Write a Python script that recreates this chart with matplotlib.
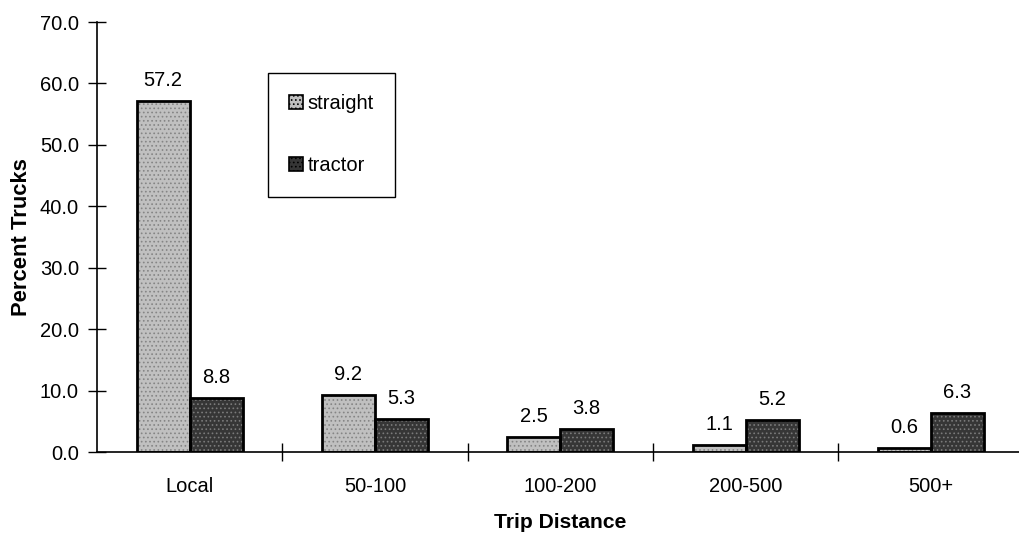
import matplotlib
matplotlib.use("Agg")
import matplotlib.pyplot as plt
import numpy as np
from matplotlib.patches import Patch
from matplotlib.ticker import FixedLocator, FormatStrFormatter

plt.rcParams['font.family'] = ['Liberation Sans', 'DejaVu Sans']
plt.rcParams['hatch.linewidth'] = 0.7

categories = ["Local", "50-100", "100-200", "200-500", "500+"]
straight = [57.2, 9.2, 2.5, 1.1, 0.6]
tractor = [8.8, 5.3, 3.8, 5.2, 6.3]
series_names = ["straight", "tractor"]

W, H = 1019, 536
fig = plt.figure(figsize=(W / 100, H / 100), dpi=100)
ax = fig.add_axes([97 / W, 1 - 452 / H, 926.5 / W, 430 / H])

x = np.arange(len(categories))
bw = 0.286
fs = 14.5

styles = [
    dict(face="#c0c0c0", dots="#858585"),
    dict(face="#363636", dots="#7a7a7a"),
]
handles = []
for vals, off, st, name in zip([straight, tractor], [-bw / 2, bw / 2], styles, series_names):
    # stippled fill
    ax.bar(x + off, vals, bw, color=st["face"], edgecolor=st["dots"], linewidth=0,
           hatch="....", zorder=2)
    # black outline
    ax.bar(x + off, vals, bw, fill=False, edgecolor="black", linewidth=2.0, zorder=3)
    for xi, v in zip(x + off, vals):
        ax.annotate(f"{v:.1f}", (xi, v), xytext=(0, 8), textcoords="offset points",
                    ha="center", va="bottom", fontsize=fs)
    handles.append(Patch(facecolor=st["face"], edgecolor="black", linewidth=1.2,
                         hatch="....", label=name))

ax.set_xlim(-0.5, len(categories) - 0.5)
ax.set_ylim(0, 70)

# axes styling
for s in ("top", "right"):
    ax.spines[s].set_visible(False)
ax.spines["left"].set_linewidth(1.2)
ax.spines["bottom"].set_linewidth(1.2)

ax.set_yticks(np.arange(0, 71, 10))
ax.yaxis.set_major_formatter(FormatStrFormatter("%.1f"))
ax.tick_params(axis="y", direction="inout", length=13, width=1.0, pad=6.5, labelsize=fs)

ax.set_xticks(x)
ax.set_xticklabels(categories)
ax.tick_params(axis="x", which="major", length=0, pad=18, labelsize=fs)
ax.xaxis.set_minor_locator(FixedLocator(np.arange(0.5, len(categories) - 0.5, 1)))
ax.tick_params(axis="x", which="minor", direction="inout", length=13, width=1.0)

ax.set_ylabel("Percent Trucks", fontsize=15.8, fontweight="bold", va="center")
ax.yaxis.set_label_coords((22 - 97) / 926.5, 0.5)
ax.set_xlabel("Trip Distance", fontsize=15.2, fontweight="bold", va="center")
ax.xaxis.set_label_coords(0.5, (452 - 523) / 430)

leg = ax.legend(handles=handles, loc="upper left",
                bbox_to_anchor=(268 / W, 1 - 73 / H), bbox_transform=fig.transFigure,
                borderaxespad=0, fontsize=fs, frameon=True, fancybox=False,
                framealpha=1, edgecolor="black", handlelength=0.7, handleheight=0.7,
                handletextpad=0.2, labelspacing=2.15, borderpad=1.05)
leg.get_frame().set_linewidth(1.0)

fig.savefig("out.png", dpi=100)
